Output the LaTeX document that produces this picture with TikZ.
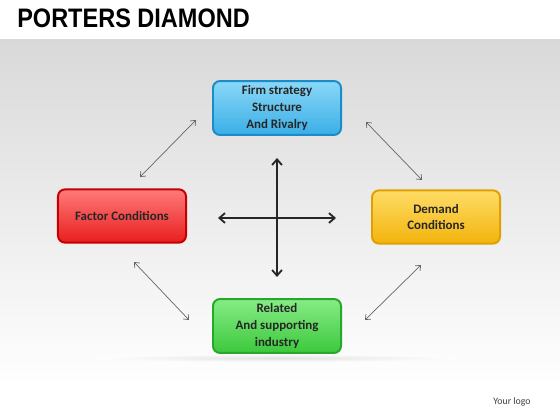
\documentclass[tikz,border=0pt]{standalone}
\usepackage{fontspec}
\setmainfont{Carlito}
\newfontfamily\titlefont{Liberation Sans}
\usetikzlibrary{arrows.meta}

\definecolor{bandgray}{HTML}{D9D9D9}
\definecolor{firmtop}{HTML}{8AD8F8}
\definecolor{firmbot}{HTML}{3AAEE6}
\definecolor{firmline}{HTML}{1C8CC8}
\definecolor{factortop}{HTML}{FF7A7A}
\definecolor{factorbot}{HTML}{E81E1E}
\definecolor{factorline}{HTML}{C40000}
\definecolor{demandtop}{HTML}{FFDC66}
\definecolor{demandbot}{HTML}{F2B40C}
\definecolor{demandline}{HTML}{E0A000}
\definecolor{relatedtop}{HTML}{86EC86}
\definecolor{relatedbot}{HTML}{3CC83C}
\definecolor{relatedline}{HTML}{28A828}

\tikzset{
  pbox/.style={rectangle, rounded corners=5pt, line width=1.4pt,
    minimum width=3.2cm, minimum height=1.33cm, align=center,
    font=\fontsize{9.2}{11.9}\selectfont\bfseries, text=black!85},
  cross/.style={{Straight Barb[length=4pt,width=7pt]}-{Straight Barb[length=4pt,width=7pt]}, line width=1.3pt, black!85},
  link/.style={{Straight Barb[length=3pt,width=5pt]}-{Straight Barb[length=3pt,width=5pt]}, line width=0.5pt, black!60}
}

\begin{document}
\begin{tikzpicture}[x=0.025cm, y=-0.025cm]
  \useasboundingbox (0,0) rectangle (560,420);
  \fill[white] (0,0) rectangle (560,420);
  % background band
  \shade[top color=bandgray, bottom color=white] (0,40) rectangle (560,385);

  % title and logo
  \node[anchor=west, font=\titlefont\bfseries\fontsize{19}{22}\selectfont, inner sep=0pt] (title) at (17,18) {\scalebox{0.88}[1]{PORTERS DIAMOND}};
  \node[font=\fontsize{7}{8}\selectfont, text=black!75] (logo) at (512,402) {Your logo};

  % soft shadow below bottom box
  \shade[inner color=black!18, outer color=white, opacity=0.6] (277,358) ellipse (180 and 4);

  % Nodes
  \node[pbox, draw=firmline, top color=firmtop, bottom color=firmbot] (firm) at (277,108) {Firm strategy\\Structure\\And Rivalry};
  \node[pbox, draw=factorline, top color=factortop, bottom color=factorbot] (factor) at (122,216) {Factor Conditions};
  \node[pbox, draw=demandline, top color=demandtop, bottom color=demandbot] (demand) at (436,217) {Demand\\Conditions};
  \node[pbox, draw=relatedline, top color=relatedtop, bottom color=relatedbot] (related) at (277,326) {Related\\And supporting\\industry};

  % cross ends
  \coordinate (up) at (277,158);
  \coordinate (down) at (277,277);
  \coordinate (left) at (218,218);
  \coordinate (right) at (336,218);

  % diagonal ends
  \coordinate (tl1) at (140,177);
  \coordinate (tl2) at (196,120);
  \coordinate (tr1) at (366,122);
  \coordinate (tr2) at (422,180);
  \coordinate (bl1) at (134,262);
  \coordinate (bl2) at (189,320);
  \coordinate (br1) at (365,320);
  \coordinate (br2) at (421,265);

  % Arrows
  \draw[cross] (up) -- (down);
  \draw[cross] (left) -- (right);
  \draw[link] (tl1) -- (tl2);
  \draw[link] (tr1) -- (tr2);
  \draw[link] (bl1) -- (bl2);
  \draw[link] (br1) -- (br2);

\end{tikzpicture}
\end{document}
